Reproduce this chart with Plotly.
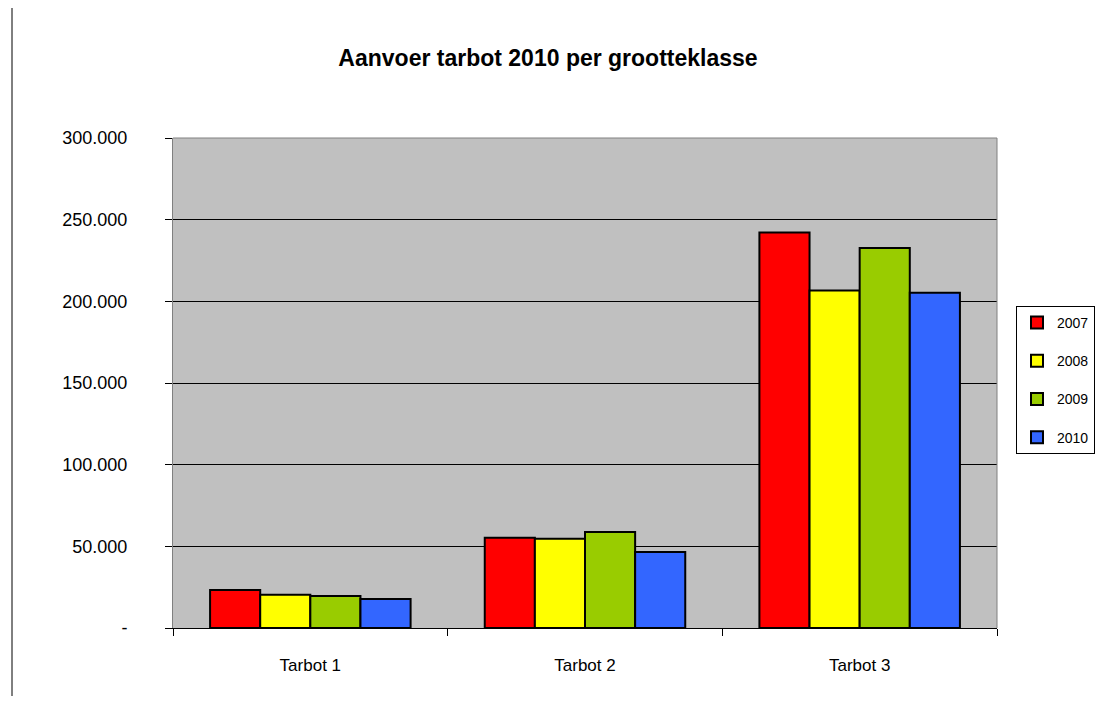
import plotly.graph_objects as go

categories = ["Tarbot 1", "Tarbot 2", "Tarbot 3"]
years = ["2007", "2008", "2009", "2010"]
aanvoer_2007 = [23300, 55200, 242200]
aanvoer_2008 = [20400, 54700, 206700]
aanvoer_2009 = [19600, 58700, 232600]
aanvoer_2010 = [17700, 46500, 205200]
y_ticks = [0, 50000, 100000, 150000, 200000, 250000, 300000]
y_ticklabels = ["-", "50.000", "100.000", "150.000", "200.000", "250.000", "300.000"]

colors = ["#FF0000", "#FFFF00", "#99CC00", "#3366FF"]
series = [aanvoer_2007, aanvoer_2008, aanvoer_2009, aanvoer_2010]

font = "Arial, Liberation Sans, sans-serif"

fig = go.Figure()
for year, vals, col in zip(years, series, colors):
    fig.add_trace(go.Bar(x=categories, y=vals, name=year, legendgroup=year,
                         marker=dict(color=col, line=dict(color="black", width=2))))

# page has an 8px body margin, so figure coords = page coords - 8
OFF = 8
W, H = 1099, 688
L, R, T, B = 173 - OFF, 997 - OFF, 138 - OFF, 628 - OFF
pw, ph = R - L, B - T

fig.update_layout(
    width=W, height=H,
    margin=dict(l=L, r=W - R, t=T, b=H - B, pad=0),
    paper_bgcolor="white",
    plot_bgcolor="#C0C0C0",
    barmode="group",
    bargap=0.27,
    bargroupgap=0,
    font=dict(family=font, color="black"),
    title=dict(text="<b>Aanvoer tarbot 2010 per grootteklasse</b>",
               x=(548 - OFF) / W, xref="container", xanchor="center",
               y=1 - (58 - OFF) / H, yref="container", yanchor="middle",
               font=dict(size=23, family=font)),
    legend=dict(x=(1016 - OFF) / W, y=1 - (306 - OFF) / H,
                xref="container", yref="container",
                xanchor="left", yanchor="top",
                bordercolor="black", borderwidth=1, bgcolor="white",
                font=dict(size=14, family=font), tracegroupgap=17,
                traceorder="grouped", itemwidth=30),
    showlegend=True,
)

fig.update_xaxes(
    type="category", tickson="boundaries", ticks="outside", ticklen=7,
    tickcolor="black", showline=True, linecolor="black", linewidth=1,
    showgrid=False, tickfont=dict(size=17), ticklabelstandoff=22,
)
fig.update_yaxes(
    range=[0, 300000], tickvals=y_ticks, ticktext=y_ticklabels,
    ticks="outside", ticklen=7, tickcolor="black",
    showline=True, linecolor="#808080", linewidth=1,
    showgrid=True, gridcolor="black", gridwidth=1, zeroline=False,
    tickfont=dict(size=18), ticklabelstandoff=34,
)

# gray plot border top and right, and the frame line on the left of the picture
fig.add_shape(type="line", xref="paper", yref="paper", x0=0, x1=1, y0=1, y1=1,
              line=dict(color="#808080", width=1))
fig.add_shape(type="line", xref="paper", yref="paper", x0=1, x1=1, y0=0, y1=1,
              line=dict(color="#808080", width=1))
fig.add_shape(type="line", xref="paper", yref="paper",
              x0=(12 - OFF - L) / pw, x1=(12 - OFF - L) / pw,
              y0=(B + OFF) / ph, y1=(B - H) / ph,
              line=dict(color="black", width=1))

fig.write_html("out.html")
